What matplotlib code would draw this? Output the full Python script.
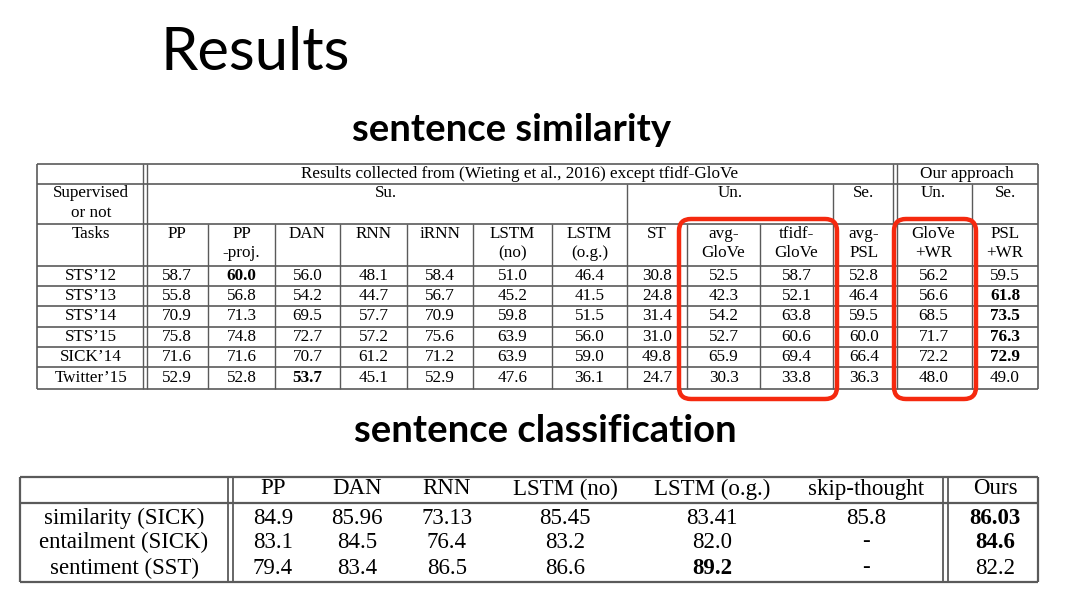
import matplotlib.pyplot as plt
from matplotlib.patches import FancyBboxPatch

# ---- data: sentence similarity (top table) ----
sim_tasks = ["STS\u201912", "STS\u201913", "STS\u201914", "STS\u201915", "SICK\u201914", "Twitter\u201915"]
sim_head1 = ["PP", "PP", "DAN", "RNN", "iRNN", "LSTM", "LSTM", "ST", "avg-", "tfidf-", "avg-", "GloVe", "PSL"]
sim_head2 = ["", "-proj.", "", "", "", "(no)", "(o.g.)", "", "GloVe", "GloVe", "PSL", "+WR", "+WR"]
sts12 = [58.7, 60.0, 56.0, 48.1, 58.4, 51.0, 46.4, 30.8, 52.5, 58.7, 52.8, 56.2, 59.5]
sts13 = [55.8, 56.8, 54.2, 44.7, 56.7, 45.2, 41.5, 24.8, 42.3, 52.1, 46.4, 56.6, 61.8]
sts14 = [70.9, 71.3, 69.5, 57.7, 70.9, 59.8, 51.5, 31.4, 54.2, 63.8, 59.5, 68.5, 73.5]
sts15 = [75.8, 74.8, 72.7, 57.2, 75.6, 63.9, 56.0, 31.0, 52.7, 60.6, 60.0, 71.7, 76.3]
sick14 = [71.6, 71.6, 70.7, 61.2, 71.2, 63.9, 59.0, 49.8, 65.9, 69.4, 66.4, 72.2, 72.9]
twitter15 = [52.9, 52.8, 53.7, 45.1, 52.9, 47.6, 36.1, 24.7, 30.3, 33.8, 36.3, 48.0, 49.0]

# ---- data: sentence classification (bottom table) ----
cls_methods = ["PP", "DAN", "RNN", "LSTM (no)", "LSTM (o.g.)", "skip-thought", "Ours"]
cls_tasks = ["similarity (SICK)", "entailment (SICK)", "sentiment (SST)"]
similarity_sick = [84.9, 85.96, 73.13, 85.45, 83.41, 85.8, 86.03]
entailment_sick = [83.1, 84.5, 76.4, 83.2, 82.0, None, 84.6]
sentiment_sst = [79.4, 83.4, 86.5, 86.6, 89.2, None, 82.2]

# ---- layout (pixel coords of the slide) ----
W, H = 1071, 604
top_cols = [37, 145, 208, 275, 340, 407, 473, 552, 627, 687, 760, 833, 895, 972, 1038]
top_rows = [164, 184, 224, 266, 286, 306, 327, 347, 367, 389]
bot_x0, bot_x1 = 20, 1038
bot_rows = [477, 503, 582]
bot_dbl = [230.5, 945.5]
bot_label_x = 124
bot_col_x = [273, 357, 447, 565, 712, 866, 995]
bot_text_y = [489, 518, 542, 568]

SERIF = "Liberation Serif"
LINE = "#5a5a5a"
RED = "#f5290f"

fig = plt.figure(figsize=(W / 100, H / 100), dpi=100)
ax = fig.add_axes([0, 0, 1, 1])
ax.set_xlim(0, W)
ax.set_ylim(H, 0)
ax.set_axis_off()


def hline(y, x0, x1, lw=1.0):
    ax.plot([x0, x1], [y, y], color=LINE, lw=lw, solid_capstyle="butt")


def vline(x, y0, y1, lw=1.0):
    ax.plot([x, x], [y0, y1], color=LINE, lw=lw, solid_capstyle="butt")


def txt(x, y, s, size, bold=False):
    ax.text(x, y, s, ha="center", va="center", fontsize=size, family=SERIF,
            fontweight="bold" if bold else "normal", color="black")


# titles
ax.text(160, 70, "Results", fontsize=43, family="Lato", ha="left", va="baseline")
ax.text(512, 130, "sentence similarity", fontsize=27.5, family="Lato", fontweight="bold",
        ha="center", va="center")
ax.text(545, 431, "sentence classification", fontsize=27.5, family="Lato", fontweight="bold",
        ha="center", va="center")

# ---- top table ----
c = top_cols
r = top_rows
x_left, x_right = c[0], c[-1]
for y in r:
    hline(y, x_left, x_right, lw=1.2)
vline(x_left, r[0], r[-1], lw=1.2)
vline(x_right, r[0], r[-1], lw=1.2)
for xd in (c[1] - 2, c[1] + 2, c[12] - 2, c[12] + 2):
    vline(xd, r[0], r[-1], lw=1.0)
# group separators from row 1 down
for xi in (8, 11, 13):
    vline(c[xi], r[1], r[-1])
# column separators from row 2 down
for xi in (2, 3, 4, 5, 6, 7, 9, 10):
    vline(c[xi], r[2], r[-1])

fs = 12.3
txt((c[1] + c[12]) / 2, (r[0] + r[1]) / 2,
    "Results collected from (Wieting et al., 2016) except tfidf-GloVe", fs)
txt((c[12] + c[14]) / 2, (r[0] + r[1]) / 2, "Our approach", fs)
txt((c[0] + c[1]) / 2, 193, "Supervised", fs)
txt((c[0] + c[1]) / 2, 213, "or not", fs)
txt((c[1] + c[8]) / 2, 193, "Su.", fs)
txt((c[8] + c[11]) / 2, 193, "Un.", fs)
txt((c[11] + c[12]) / 2, 193, "Se.", fs)
txt((c[12] + c[13]) / 2, 193, "Un.", fs)
txt((c[13] + c[14]) / 2, 193, "Se.", fs)
txt((c[0] + c[1]) / 2, 234, "Tasks", fs)

for j, (h1, h2) in enumerate(zip(sim_head1, sim_head2)):
    xc = (c[j + 1] + c[j + 2]) / 2
    txt(xc, 234, h1, fs)
    if h2:
        txt(xc, 253, h2, fs)

for i, (task, vals) in enumerate(zip(sim_tasks, [sts12, sts13, sts14, sts15, sick14, twitter15])):
    yc = (r[3 + i] + r[4 + i]) / 2
    txt((c[0] + c[1]) / 2, yc, task, fs)
    best = max(vals)
    for j, v in enumerate(vals):
        txt((c[j + 1] + c[j + 2]) / 2, yc, f"{v:.1f}", fs, bold=(v == best))

# red highlight boxes
for x0, x1 in [(c[9] - 8, c[11] + 4), (c[12] - 1, c[13] + 4)]:
    ax.add_patch(FancyBboxPatch((x0 + 12, 219 + 12), x1 - x0 - 24, 399 - 219 - 24,
                                boxstyle="round,pad=12", fill=False,
                                edgecolor=RED, lw=3.2, zorder=5))

# ---- bottom table ----
for y in bot_rows:
    hline(y, bot_x0, bot_x1, lw=1.6)
vline(bot_x0, bot_rows[0], bot_rows[-1], lw=1.6)
vline(bot_x1, bot_rows[0], bot_rows[-1], lw=1.6)
for xd in bot_dbl:
    vline(xd - 2.5, bot_rows[0], bot_rows[-1], lw=1.3)
    vline(xd + 2.5, bot_rows[0], bot_rows[-1], lw=1.3)

fb = 16.5
for xc, name in zip(bot_col_x, cls_methods):
    txt(xc, bot_text_y[0], name, fb)
for i, (task, vals) in enumerate(zip(cls_tasks, [similarity_sick, entailment_sick, sentiment_sst])):
    yc = bot_text_y[i + 1]
    txt(bot_label_x, yc, task, fb)
    best = max(v for v in vals if v is not None)
    for xc, v in zip(bot_col_x, vals):
        txt(xc, yc, "-" if v is None else str(v), fb, bold=(v == best))

fig.savefig("out.png", dpi=100)
